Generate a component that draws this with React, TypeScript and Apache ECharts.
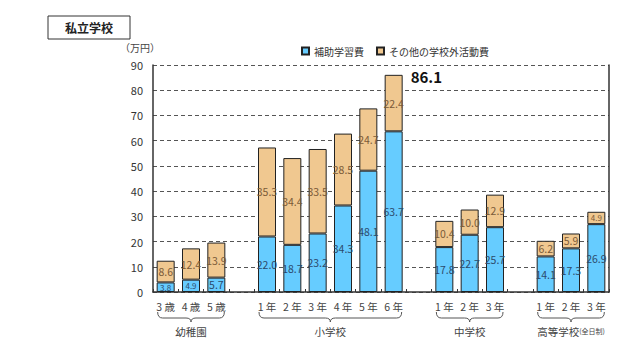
import React, { useEffect, useRef } from 'react';
import * as echarts from 'echarts';

const title = '私立学校';
const unitLabel = '（万円）';
const categories = ['3 歳', '4 歳', '5 歳', '', '1 年', '2 年', '3 年', '4 年', '5 年', '6 年', '', '1 年', '2 年', '3 年', '', '1 年', '2 年', '3 年'];
const seriesNames = ['補助学習費', 'その他の学校外活動費'];
const hojoValues = [3.8, 4.9, 5.7, null, 22.0, 18.7, 23.2, 34.3, 48.1, 63.7, null, 17.8, 22.7, 25.7, null, 14.1, 17.3, 26.9];
const otherValues = [8.6, 12.4, 13.9, null, 35.3, 34.4, 33.5, 28.5, 24.7, 22.4, null, 10.4, 10.0, 12.9, null, 6.2, 5.9, 4.9];
const yMin = 0;
const yMax = 90;
const yInterval = 10;
const groupNames = ['幼稚園', '小学校', '中学校', '高等学校'];
const groupSubNames = ['', '', '', '(全日制)'];
const groupFrom = [0, 4, 11, 15];
const groupTo = [2, 9, 13, 17];
const highlightIndex = 9;

const FONT = "'Noto Sans CJK JP', 'Noto Sans', sans-serif";

export default function App() {
  const ref = useRef<HTMLDivElement>(null);
  useEffect(() => {
    const chart = echarts.init(ref.current!, null, { renderer: 'svg' });
    const mkData = (arr: (number | null)[]) =>
      arr.map((v) => (v == null ? null : v < 5.5 ? { value: v, label: { fontSize: 8 } } : { value: v }));
    const mkLabel = (color: string) => ({
      show: true,
      position: 'inside',
      color,
      fontSize: 10.5,
      fontFamily: FONT,
      formatter: (p: any) => (p.value == null ? '' : Number(p.value).toFixed(1)),
    });
    chart.setOption({
      animation: false,
      textStyle: { fontFamily: FONT },
      legend: {
        left: 301,
        top: 46,
        padding: 0,
        itemWidth: 7,
        itemHeight: 7,
        itemGap: 12,
        icon: 'rect',
        textStyle: { fontSize: 10, color: '#333', fontFamily: FONT },
        data: seriesNames,
      },
      grid: { left: 153, right: 27, top: 65, bottom: 70 },
      xAxis: {
        type: 'category',
        data: categories,
        axisLine: { lineStyle: { color: '#333', width: 1.5 } },
        axisTick: { show: true, inside: true, length: 3, interval: 0, lineStyle: { color: '#333' } },
        axisLabel: { interval: 0, color: '#444', fontSize: 10.5, margin: 9, fontFamily: FONT },
      },
      yAxis: [
        {
          type: 'value',
          min: yMin,
          max: yMax,
          interval: yInterval,
          axisLine: { show: true, lineStyle: { color: '#333', width: 1.5 } },
          axisTick: { show: false },
          axisLabel: { color: '#333', fontSize: 11, margin: 10, fontFamily: FONT },
          splitLine: { lineStyle: { type: [4, 3], color: '#555', width: 1 } },
        },
        {
          type: 'value',
          min: yMin,
          max: yMax,
          interval: yInterval,
          position: 'right',
          axisLine: { show: true, lineStyle: { color: '#333', width: 1.5 } },
          axisTick: { show: false },
          axisLabel: { show: false },
          splitLine: { show: false },
        },
      ],
      series: [
        {
          name: seriesNames[0],
          type: 'bar',
          stack: 'total',
          barWidth: 18,
          data: mkData(hojoValues),
          itemStyle: { color: '#66CCFF', borderColor: '#222', borderWidth: 1 },
          label: mkLabel('#2c4a6b'),
        },
        {
          name: seriesNames[1],
          type: 'bar',
          stack: 'total',
          barWidth: 18,
          data: mkData(otherValues),
          itemStyle: { color: '#F0C890', borderColor: '#222', borderWidth: 1 },
          label: mkLabel('#7a5a38'),
        },
      ],
    });

    const base = chart.convertToPixel({ yAxisIndex: 0 }, 0) as number;
    const els: any[] = [
      {
        type: 'rect',
        shape: { x: 48, y: 16, width: 82, height: 23 },
        style: { fill: '#fff', stroke: '#333', lineWidth: 1 },
      },
      {
        type: 'text',
        x: 89,
        y: 27.5,
        style: { text: title, fontSize: 12, fontWeight: 'bold', fontFamily: FONT, fill: '#222', align: 'center', verticalAlign: 'middle' },
      },
      {
        type: 'text',
        x: 140,
        y: 47,
        style: { text: unitLabel, fontSize: 10, fontFamily: FONT, fill: '#444', align: 'center', verticalAlign: 'middle' },
      },
    ];
    const lineStyle = { stroke: '#555', lineWidth: 1, fill: 'none' };
    const pad = 8;
    const r = 5;
    const yTop = base + 20;
    const yMid = base + 26;
    const yTip = base + 30;
    groupNames.forEach((name, i) => {
      const x0 = (chart.convertToPixel({ xAxisIndex: 0 }, groupFrom[i]) as number) - pad;
      const x1 = (chart.convertToPixel({ xAxisIndex: 0 }, groupTo[i]) as number) + pad;
      const m = (x0 + x1) / 2;
      const curves = [
        [x0, yTop, x0, yMid, x0 + r, yMid],
        [m - r, yMid, m, yMid, m, yTip],
        [m, yTip, m, yMid, m + r, yMid],
        [x1 - r, yMid, x1, yMid, x1, yTop],
      ];
      curves.forEach((c) => {
        els.push({
          type: 'bezierCurve',
          shape: { x1: c[0], y1: c[1], cpx1: c[2], cpy1: c[3], x2: c[4], y2: c[5] },
          style: lineStyle,
        });
      });
      els.push({ type: 'line', shape: { x1: x0 + r, y1: yMid, x2: m - r, y2: yMid }, style: lineStyle });
      els.push({ type: 'line', shape: { x1: m + r, y1: yMid, x2: x1 - r, y2: yMid }, style: lineStyle });
      const sub = groupSubNames[i];
      els.push({
        type: 'text',
        x: m,
        y: base + 39,
        style: {
          text: sub ? `{a|${name}}{b|${sub}}` : `{a|${name}}`,
          rich: {
            a: { fontSize: 10.5, fontFamily: FONT, fill: '#444', color: '#444' },
            b: { fontSize: 7, fontFamily: FONT, fill: '#444', color: '#444' },
          },
          align: 'center',
          verticalAlign: 'middle',
        },
      });
    });
    const total = (hojoValues[highlightIndex] as number) + (otherValues[highlightIndex] as number);
    const [tx, ty] = chart.convertToPixel({ xAxisIndex: 0, yAxisIndex: 0 }, [highlightIndex, total]) as number[];
    els.push({
      type: 'text',
      x: tx + 17,
      y: ty + 2,
      style: {
        text: total.toFixed(1),
        fontSize: 15,
        fontWeight: 'bold',
        fontFamily: FONT,
        fill: '#111',
        align: 'left',
        verticalAlign: 'middle',
      },
    });
    chart.setOption({ graphic: els });
    return () => chart.dispose();
  }, []);
  return <div ref={ref} style={{ position: 'absolute', left: 0, top: 0, width: 636, height: 362 }} />;
}
